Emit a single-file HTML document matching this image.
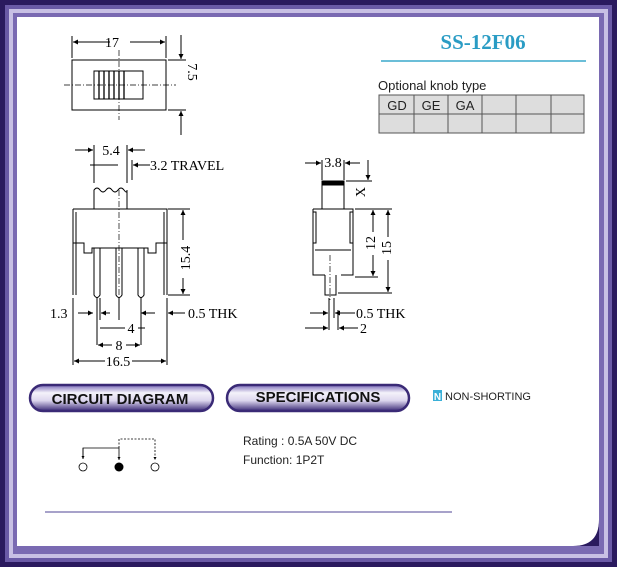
<!DOCTYPE html>
<html><head><meta charset="utf-8"><style>
html,body{margin:0;padding:0;width:617px;height:567px;overflow:hidden;background:#fff}
svg{display:block}
.d{font-family:"Liberation Serif",serif;font-size:14px;fill:#000}
.s{font-family:"Liberation Sans",sans-serif;fill:#222}
</style></head><body>
<svg width="617" height="567" viewBox="0 0 617 567" xmlns="http://www.w3.org/2000/svg">
<defs>
<linearGradient id="pill" x1="0" y1="0" x2="0" y2="1">
<stop offset="0" stop-color="#7a6ab8"/><stop offset="0.3" stop-color="#f4f2fa"/><stop offset="0.6" stop-color="#dcd6ee"/><stop offset="1" stop-color="#3a2a76"/>
</linearGradient>
<marker id="a" viewBox="0 0 10 10" refX="10" refY="5" markerWidth="7" markerHeight="5" orient="auto"><path d="M0,0L10,5L0,10z" fill="#000"/></marker>
<marker id="sa" viewBox="0 0 10 10" refX="10" refY="5" markerWidth="4" markerHeight="4" orient="auto"><path d="M0,0L10,5L0,10z" fill="#000"/></marker>
</defs>
<rect x="0" y="0" width="617" height="567" fill="#2a1a5e"/>
<rect x="5" y="5" width="607" height="557" fill="#6a5aa6"/>
<rect x="9" y="9" width="599" height="549" fill="#c8c0e4"/>
<rect x="13" y="13" width="591" height="541" fill="#7a6ab2"/>
<path d="M17,17H599V520Q599,546 573,546H17Z" fill="#fff"/>
<path d="M573,546Q599,546 599,520V546Z" fill="#2a1a5e"/>

<g stroke="#000" fill="none" stroke-width="1">
<rect x="72" y="60" width="94" height="50"/>
<rect x="94" y="71" width="49" height="28"/>
<path d="M99,71V99M104,71V99M109,71V99M114,71V99M119,71V99M124,71V99" stroke-width="1.3"/>
<path d="M64,85H176M119,50V120" stroke-dasharray="6,2,1,2" stroke-width="0.7"/>
<path d="M72,36V58M166,36V58"/>
<path d="M110,42H73" marker-end="url(#a)"/><path d="M130,42H165" marker-end="url(#a)"/>
<path d="M168,60H186M168,110H186"/>
<path d="M181,35V59" marker-end="url(#a)"/><path d="M181,135V111" marker-end="url(#a)"/>

<path d="M94,209V190Q97,186 100,190T106,190T112,190T118,190T124,190T127,190V209"/>
<path d="M73,209H167V243"/>
<path d="M73,209V295M167,209V295M76,212V295M164,212V295"/>
<path d="M73,243H84V253H92V248H148V253H156V243H167"/>
<path d="M94,248V295Q97,300 100,295V248M116,248V295Q119,300 122,295V248M138,248V295Q141,300 144,295V248"/>
<path d="M119,190V300" stroke-dasharray="6,2,1,2" stroke-width="0.7"/>
<path d="M94,145V183M127,145V183M132,160V180"/>
<path d="M75,150H93" marker-end="url(#a)"/><path d="M145,150H128" marker-end="url(#a)"/>
<path d="M90,165H118M105,165H95"/><path d="M150,165H133" marker-end="url(#a)"/>
<path d="M168,209H190M168,295H190"/>
<path d="M183,240V210" marker-end="url(#a)"/><path d="M183,278V294" marker-end="url(#a)"/>
<path d="M73,298V365M167,298V365M97,298V345M141,298V345M100,298V320M119,298V320"/>
<path d="M78,313H93" marker-end="url(#a)"/><path d="M110,313H101" marker-end="url(#a)"/>
<path d="M155,313H141" marker-end="url(#a)"/><path d="M185,313H168" marker-end="url(#a)"/>
<path d="M100,328H125M138,328H145"/><path d="M112,345H98" marker-end="url(#a)"/><path d="M126,345H140" marker-end="url(#a)"/>
<path d="M105,361H74" marker-end="url(#a)"/><path d="M132,361H166" marker-end="url(#a)"/>

<rect x="322" y="181" width="22" height="28"/>
<rect x="322" y="181" width="22" height="4" fill="#000"/>
<path d="M313,209H353V275H341M313,209V275H325"/>
<path d="M313,212H316V243H313M353,212H350V243H353"/>
<path d="M315,250H351"/>
<path d="M325,275V295H336V275" />
<path d="M330,255V300" stroke-dasharray="6,2,1,2" stroke-width="0.7"/>
<path d="M322,160V180M344,160V180"/>
<path d="M305,163H321" marker-end="url(#a)"/><path d="M360,163H345" marker-end="url(#a)"/>
<path d="M346,181H372M355,209H392M355,277H378M338,293H392"/>
<path d="M368,160V180" marker-end="url(#a)"/>
<path d="M373,232V210" marker-end="url(#a)"/><path d="M373,255V276" marker-end="url(#a)"/>
<path d="M388,237V210" marker-end="url(#a)"/><path d="M388,260V292" marker-end="url(#a)"/>
<path d="M329,298V330M334,298V318M338,310V330"/>
<path d="M310,313H328" marker-end="url(#a)"/><path d="M355,313H335" marker-end="url(#a)"/>
<path d="M305,328H328" marker-end="url(#a)"/><path d="M358,328H339" marker-end="url(#a)"/>
</g>
<g class="d">
<text x="112" y="47" text-anchor="middle">17</text>
<text x="0" y="0" transform="translate(188,72) rotate(90)" text-anchor="middle">7.5</text>
<text x="111" y="155" text-anchor="middle">5.4</text>
<text x="150" y="170">3.2 TRAVEL</text>
<text x="0" y="0" transform="translate(190,258) rotate(-90)" text-anchor="middle">15.4</text>
<text x="50" y="318">1.3</text>
<text x="188" y="318">0.5 THK</text>
<text x="131" y="333" text-anchor="middle">4</text>
<text x="119" y="350" text-anchor="middle">8</text>
<text x="118" y="366" text-anchor="middle">16.5</text>
<text x="333" y="167" text-anchor="middle">3.8</text>
<text x="0" y="0" transform="translate(365,192) rotate(-90)" text-anchor="middle">X</text>
<text x="0" y="0" transform="translate(375,243) rotate(-90)" text-anchor="middle">12</text>
<text x="0" y="0" transform="translate(391,248) rotate(-90)" text-anchor="middle">15</text>
<text x="356" y="318">0.5 THK</text>
<text x="360" y="333">2</text>
</g>

<text x="483" y="49" text-anchor="middle" font-family="Liberation Serif,serif" font-weight="bold" font-size="21" fill="#2a9cc4">SS-12F06</text>
<line x1="381" y1="61" x2="586" y2="61" stroke="#3aa8cc" stroke-width="1.5"/>
<text x="378" y="90" class="s" font-size="13">Optional knob type</text>
<rect x="379" y="95" width="205" height="38" fill="#ddd" stroke="#555"/>
<g stroke="#555"><path d="M379,114H584M414,95V133M448,95V133M482,95V133M516,95V133M551,95V133"/></g>
<g class="s" font-size="13" text-anchor="middle"><text x="397" y="110">GD</text><text x="431" y="110">GE</text><text x="465" y="110">GA</text></g>

<rect x="30" y="385" width="183" height="26" rx="13" fill="url(#pill)" stroke="#3a2a76" stroke-width="2.5"/>
<text x="120" y="404" text-anchor="middle" font-family="Liberation Sans,sans-serif" font-weight="bold" font-size="15" fill="#111">CIRCUIT DIAGRAM</text>
<rect x="227" y="385" width="182" height="26" rx="13" fill="url(#pill)" stroke="#3a2a76" stroke-width="2.5"/>
<text x="318" y="402" text-anchor="middle" font-family="Liberation Sans,sans-serif" font-weight="bold" font-size="15" fill="#111">SPECIFICATIONS</text>
<rect x="433" y="390" width="9" height="11" fill="#3ab0d8"/>
<text x="437.5" y="400" text-anchor="middle" font-family="Liberation Sans,sans-serif" font-weight="bold" font-size="10" fill="#fff">N</text>
<text x="445" y="400" class="s" font-size="11">NON-SHORTING</text>

<g stroke="#000" fill="none" stroke-width="0.8">
<path d="M83,459V448H119V460" marker-end="url(#sa)"/>
<path d="M83,448V459" marker-end="url(#sa)"/>
<path d="M119,448V439H155V460" stroke-dasharray="2,1.5" marker-end="url(#sa)"/>
<circle cx="83" cy="467" r="4"/><circle cx="155" cy="467" r="4"/>
</g>
<circle cx="119" cy="467" r="4.5" fill="#000"/>
<text x="243" y="445" class="s" font-size="12">Rating : 0.5A 50V DC</text>
<text x="243" y="464" class="s" font-size="12">Function: 1P2T</text>
<line x1="45" y1="512" x2="452" y2="512" stroke="#8a84b8" stroke-width="1.5"/>
</svg>
</body></html>
